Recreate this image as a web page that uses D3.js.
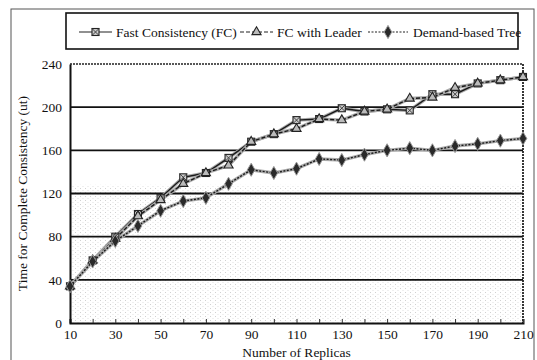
<!DOCTYPE html>
<html>
<head>
<meta charset="utf-8">
<script src="https://cdn.jsdelivr.net/npm/d3@7"></script>
<style>
  html, body { margin: 0; padding: 0; background: #fff; }
</style>
</head>
<body>
<svg id="chart" width="537" height="360"></svg>
<script>
// number of replicas on the x axis
const replicas = [10, 20, 30, 40, 50, 60, 70, 80, 90, 100, 110, 120, 130, 140, 150, 160, 170, 180, 190, 200, 210];
const fastConsistency = [34, 58, 80, 101, 116, 135, 139, 153, 168, 175, 188, 189, 199, 196, 198, 197, 212, 212, 222, 225, 228];
const fcWithLeader    = [34, 58, 78, 99, 114, 129, 139, 146, 168, 175, 180, 189, 188, 196, 198, 208, 209, 218, 222, 225, 228];
const demandTree      = [34, 57, 76, 90, 104, 113, 116, 129, 142, 139, 143, 152, 151, 156, 160, 162, 160, 164, 166, 169, 171];
const seriesNames = ["Fast Consistency (FC)", "FC with Leader", "Demand-based Tree"];
const xTickLabels = [10, 30, 50, 70, 90, 110, 130, 150, 170, 190, 210];
const yTickLabels = [0, 40, 80, 120, 160, 200, 240];

const FONT = '"Liberation Serif"';
const FS = 13.5;

const svg = d3.select("#chart");
const plot = {left: 70, right: 523, top: 64, bottom: 323};

const x = d3.scaleLinear().domain([10, 210]).range([plot.left, plot.right]);
const y = d3.scaleLinear().domain([0, 240]).range([plot.bottom, plot.top]);

// stipple left over from the scan
const defs = svg.append("defs");
const pat = defs.append("pattern").attr("id", "stip")
    .attr("width", 5).attr("height", 4).attr("patternUnits", "userSpaceOnUse");
pat.append("rect").attr("x", 0).attr("y", 0).attr("width", 1).attr("height", 1).attr("fill", "#999");
pat.append("rect").attr("x", 2.5).attr("y", 2).attr("width", 1).attr("height", 1).attr("fill", "#bbb");

// outer frame
svg.append("rect").attr("x", 11).attr("y", 9).attr("width", 523).attr("height", 360)
    .attr("fill", "none").attr("stroke", "#555").attr("stroke-width", 1);

svg.append("rect")
    .attr("x", plot.left).attr("y", y(128))
    .attr("width", plot.right - plot.left).attr("height", plot.bottom - y(128))
    .attr("fill", "url(#stip)").attr("opacity", 0.45);

// horizontal grid
svg.append("g").selectAll("line")
  .data(yTickLabels.filter(d => d > 0 && d < 240))
  .join("line")
    .attr("x1", plot.left).attr("x2", plot.right)
    .attr("y1", d => y(d)).attr("y2", d => y(d))
    .attr("stroke", "#111").attr("stroke-width", 1.8);

// top and right border (dotted from the scan)
svg.append("line")
    .attr("x1", plot.left).attr("x2", plot.right)
    .attr("y1", y(240)).attr("y2", y(240))
    .attr("stroke", "#222").attr("stroke-width", 1.6).attr("stroke-dasharray", "2,1");
svg.append("line")
    .attr("x1", plot.right).attr("x2", plot.right)
    .attr("y1", y(240)).attr("y2", y(0))
    .attr("stroke", "#222").attr("stroke-width", 1.8).attr("stroke-dasharray", "2,1");

// axes
const xAxis = d3.axisBottom(x).tickValues(replicas).tickSize(-4)
    .tickFormat(d => xTickLabels.includes(d) ? d : "");
const gx = svg.append("g").attr("transform", `translate(0,${plot.bottom})`).call(xAxis);
gx.attr("font-family", null);
gx.select(".domain").attr("stroke", "#111").attr("stroke-width", 2);
gx.selectAll(".tick line").attr("stroke", "#333");
gx.selectAll(".tick text").attr("y", 6).attr("font-size", FS).attr("fill", "#111")
    .style("font-family", FONT);

const yAxis = d3.axisLeft(y).tickValues(yTickLabels).tickSize(0).tickPadding(8);
const gy = svg.append("g").attr("transform", `translate(${plot.left},0)`).call(yAxis);
gy.attr("font-family", null);
gy.select(".domain").attr("stroke", "#111").attr("stroke-width", 2);
gy.selectAll(".tick text").attr("font-size", FS).attr("fill", "#111")
    .style("font-family", FONT);

// axis titles
svg.append("text").attr("x", (plot.left + plot.right) / 2).attr("y", 357)
    .attr("text-anchor", "middle").attr("font-size", FS).attr("fill", "#111")
    .style("font-family", FONT)
    .text("Number of Replicas");
svg.append("text")
    .attr("transform", `translate(27,${(plot.top + plot.bottom) / 2}) rotate(-90)`)
    .attr("text-anchor", "middle").attr("font-size", FS).attr("fill", "#111")
    .style("font-family", FONT)
    .text("Time for Complete Consistency (ut)");

// series
const series = [
  {name: seriesNames[0], values: fastConsistency, dash: null, marker: "square"},
  {name: seriesNames[1], values: fcWithLeader, dash: "4,2", marker: "triangle"},
  {name: seriesNames[2], values: demandTree, dash: "2,1.5", marker: "diamond"}
];

const line = d3.line().x((d, i) => x(replicas[i])).y(d => y(d));

function drawMarker(g, type) {
  if (type === "square") {
    g.append("rect").attr("x", -3.5).attr("y", -3.5).attr("width", 7).attr("height", 7)
      .attr("fill", "#ccc").attr("stroke", "#222").attr("stroke-width", 1.1);
    g.append("path").attr("d", "M-3.5,-3.5L3.5,3.5M-3.5,3.5L3.5,-3.5")
      .attr("stroke", "#333").attr("stroke-width", 0.9);
  } else if (type === "triangle") {
    g.append("path").attr("d", d3.symbol(d3.symbolTriangle, 36)())
      .attr("fill", "#bbb").attr("stroke", "#222").attr("stroke-width", 1.1);
  } else {
    g.append("path").attr("d", d3.symbol(d3.symbolDiamond, 50)())
      .attr("fill", "#2a2a2a").attr("stroke", "#999").attr("stroke-width", 1);
  }
}

series.forEach(s => {
  // grey halo like the scanned ink
  svg.append("path").datum(s.values).attr("d", line)
      .attr("fill", "none").attr("stroke", "#aaa").attr("stroke-width", 3.4);
  svg.append("path").datum(s.values).attr("d", line)
      .attr("fill", "none").attr("stroke", "#1a1a1a").attr("stroke-width", 1.4)
      .attr("stroke-dasharray", s.dash);
});
series.forEach(s => {
  svg.append("g").selectAll("g")
    .data(s.values)
    .join("g")
      .attr("transform", (d, i) => `translate(${x(replicas[i])},${y(d)})`)
      .each(function () { drawMarker(d3.select(this), s.marker); });
});

// legend
const legend = svg.append("g");
legend.append("rect").attr("x", 66).attr("y", 13).attr("width", 452).attr("height", 36)
    .attr("fill", "#fff").attr("stroke", "#111").attr("stroke-width", 1.6);
const legendPos = [{lx: 79, tx: 116}, {lx: 240, tx: 277}, {lx: 368, tx: 413}];
series.forEach((s, i) => {
  const p = legendPos[i];
  const w = i === 2 ? 40 : 33;
  const g = legend.append("g");
  g.append("line").attr("x1", p.lx).attr("x2", p.lx + w).attr("y1", 32).attr("y2", 32)
      .attr("stroke", "#222").attr("stroke-width", 1.2).attr("stroke-dasharray", s.dash);
  const m = g.append("g").attr("transform", `translate(${p.lx + w / 2},32)`);
  drawMarker(m, s.marker);
  g.append("text").attr("x", p.tx).attr("y", 36.5).attr("font-size", FS).attr("fill", "#111")
      .style("font-family", FONT)
      .text(s.name);
});
</script>
</body>
</html>
